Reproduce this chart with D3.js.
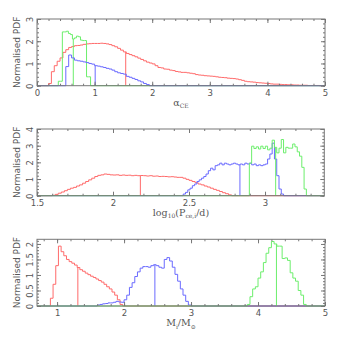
<!DOCTYPE html>
<html>
<head>
<meta charset="utf-8">
<script src="https://cdn.jsdelivr.net/npm/d3@7"></script>
<style>
  body { margin: 0; background: #fff; }
  svg { display: block; }
</style>
</head>
<body>
<svg id="chart" width="343" height="343"></svg>
<script>
// ---- alpha_CE panel (bin starts + widths)
const aceRedStart = 0.20, aceRedBin = 0.05
const aceRed = [0.1, 0.63, 0.9, 1.1, 1.25, 1.5, 1.62, 1.72, 1.76, 1.8,
    1.81, 1.83, 1.86, 1.88, 1.89, 1.9, 1.9, 1.9, 1.91, 1.9,
    1.88, 1.85, 1.8, 1.75, 1.68, 1.6, 1.52, 1.45, 1.4, 1.35,
    1.3, 1.24, 1.18, 1.12, 1.06, 1.02, 0.98, 0.9, 0.82, 0.8,
    0.75, 0.74, 0.7, 0.68, 0.64, 0.62, 0.6, 0.6, 0.58, 0.56,
    0.54, 0.5, 0.48, 0.47, 0.45, 0.44, 0.43, 0.42, 0.4, 0.38,
    0.37, 0.36, 0.34, 0.33, 0.32, 0.3, 0.27, 0.24, 0.2, 0.18,
    0.17, 0.16, 0.14, 0.13, 0.12, 0.11, 0.1, 0.08, 0.07, 0.07,
    0.06, 0.05, 0.05, 0.04, 0.04, 0.03, 0.03, 0.02, 0.02, 0.02,
    0.01, 0.01, 0.01, 0.01]
const aceGreenStart = 0.37, aceGreenBin = 0.035
const aceGreen = [0.2, 0.2, 2.42, 2.42, 2.45, 2.35, 2.3, 2.1, 2.15, 2.23, 2.2, 2.05, 2.03, 2.03, 0.4, 0.4]
const aceBlueStart = 0.50, aceBlueBin = 0.05
const aceBlue = [0.86, 1.38, 1.25, 1.15, 1.12, 1.1, 1.07, 1.04, 1.0, 0.97,
    0.9, 0.88, 0.85, 0.82, 0.78, 0.75, 0.7, 0.63, 0.58, 0.55,
    0.52, 0.42, 0.38, 0.33, 0.28, 0.22, 0.17, 0.1, 0.05]
const aceMedians = [1.54, 0.63, 1.01]   // red, green, blue

// ---- log10(P_ce,i) panel
const perRedStart = 1.60, perRedBin = 0.02
const perRed = [0.02, 0.08, 0.15, 0.22, 0.3, 0.38, 0.45, 0.5, 0.58, 0.65,
    0.75, 0.85, 0.95, 1.05, 1.15, 1.22, 1.25, 1.3, 1.28, 1.25,
    1.24, 1.25, 1.22, 1.24, 1.22, 1.23, 1.2, 1.22, 1.2, 1.21,
    1.2, 1.18, 1.2, 1.17, 1.18, 1.15, 1.16, 1.15, 1.13, 1.14,
    1.12, 1.1, 1.1, 1.05, 0.98, 0.92, 0.85, 0.78, 0.7, 0.65,
    0.58, 0.52, 0.45, 0.38, 0.32, 0.25, 0.18, 0.12, 0.05]
const perBlueStart = 2.462, perBlueBin = 0.015
const perBlue = [0.1, 0.2, 0.35, 0.45, 0.6, 0.7, 0.85, 0.95, 1.05, 1.15,
    1.3, 1.5, 1.65, 1.55, 1.8, 1.85, 1.95, 1.85, 1.95, 1.9,
    1.85, 1.9, 1.95, 1.9, 1.85, 1.9, 1.85, 1.95, 1.9, 1.95,
    1.85, 1.9, 1.8, 1.85, 1.8, 1.85, 1.9, 2.2, 2.5, 3.15,
    2.2, 1.2, 0.4, 0.1]
const perGreenStart = 2.897, perGreenBin = 0.015
const perGreen = [1.95, 2.97, 2.83, 2.93, 2.8, 2.97, 2.83, 2.97, 2.75, 2.85,
    3.33, 2.9, 2.57, 2.85, 3.37, 2.57, 2.9, 2.85, 2.85, 3.1,
    2.93, 2.63, 2.37, 1.7, 0.4]
const perMedians = [2.18, 3.07, 2.835]

// ---- M_i / M_sun panel
const massRedStart = 0.90, massRedBin = 0.04
const massRed = [0.25, 0.7, 1.3, 1.93, 1.75, 1.62, 1.5, 1.43, 1.38, 1.32,
    1.24, 1.17, 1.12, 1.06, 1.01, 0.96, 0.92, 0.87, 0.82, 0.77,
    0.7, 0.62, 0.55, 0.45, 0.35, 0.2, 0.05]
const massBlueStart = 1.60, massBlueBin = 0.04
const massBlue = [0.03, 0.05, 0.07, 0.08, 0.1, 0.1, 0.12, 0.15, 0.13, 0.12,
    0.2, 0.35, 0.6, 0.75, 0.95, 1.1, 1.22, 1.27, 1.27, 1.25,
    1.3, 1.33, 1.3, 1.25, 1.22, 1.5, 1.56, 1.45, 1.25, 1.02,
    0.8, 0.55, 0.35, 0.15, 0.03]
const massGreenStart = 3.84, massGreenBin = 0.04
const massGreen = [0.05, 0.3, 0.55, 0.62, 0.9, 1.1, 1.4, 1.7, 1.88, 2.08,
    2.0, 1.93, 1.93, 1.53, 1.55, 1.47, 1.07, 0.9, 0.8, 0.5,
    0.35, 0.05]
const massMedians = [1.31, 4.275, 2.46]

const colors = { red: '#ff6a6a', green: '#6cee6c', blue: '#6a6aff' }
const textColor = '#555'
const frameColor = '#777'

const panels = [
    {
        top: 19, bottom: 85.7, right: 325,
        xDomain: [0, 5], yDomain: [0, 3],
        xMajor: d3.range(0, 5.01, 1), xMinor: d3.range(0, 5.01, 0.2),
        yMajor: d3.range(0, 3.01, 1), yMinor: d3.range(0, 3.01, 0.2),
        series: [
            { c: colors.red, start: aceRedStart, bin: aceRedBin, vals: aceRed, med: aceMedians[0] },
            { c: colors.green, start: aceGreenStart, bin: aceGreenBin, vals: aceGreen, med: aceMedians[1] },
            { c: colors.blue, start: aceBlueStart, bin: aceBlueBin, vals: aceBlue, med: aceMedians[2] }
        ],
        label: ['α', 'CE']
    },
    {
        top: 129, bottom: 195.7, right: 324.3,
        xDomain: [1.5, 3.39], yDomain: [0, 4],
        xMajor: [1.5, 2, 2.5, 3], xMinor: d3.range(1.5, 3.39, 0.1),
        yMajor: d3.range(0, 4.01, 1), yMinor: d3.range(0, 4.01, 0.2),
        series: [
            { c: colors.red, start: perRedStart, bin: perRedBin, vals: perRed, med: perMedians[0] },
            { c: colors.blue, start: perBlueStart, bin: perBlueBin, vals: perBlue, med: perMedians[2] },
            { c: colors.green, start: perGreenStart, bin: perGreenBin, vals: perGreen, med: perMedians[1] }
        ],
        label: ['log', '10', '(P', 'ce,i', '/d)']
    },
    {
        top: 239.3, bottom: 306, right: 325,
        xDomain: [0.7, 5], yDomain: [0, 2.15],
        xMajor: d3.range(1, 5.01, 1), xMinor: d3.range(0.8, 5.01, 0.2),
        yMajor: [0, 0.5, 1, 1.5, 2], yMinor: d3.range(0, 2.15, 0.1),
        series: [
            { c: colors.red, start: massRedStart, bin: massRedBin, vals: massRed, med: massMedians[0] },
            { c: colors.blue, start: massBlueStart, bin: massBlueBin, vals: massBlue, med: massMedians[2] },
            { c: colors.green, start: massGreenStart, bin: massGreenBin, vals: massGreen, med: massMedians[1] }
        ],
        label: ['M', 'i', '/M', '⊙']
    }
]

const left = 37
const svg = d3.select('#chart')
const fmt = d => String(+d.toFixed(2))

panels.forEach(p => {
    const x = d3.scaleLinear().domain(p.xDomain).range([left, p.right])
    const y = d3.scaleLinear().domain(p.yDomain).range([p.bottom, p.top])
    const g = svg.append('g')

    // histograms as step lines
    const line = d3.line().x(d => x(d[0])).y(d => y(d[1])).curve(d3.curveStepAfter)
    p.series.forEach(s => {
        const end = s.start + s.vals.length * s.bin
        const pts = [[p.xDomain[0], 0], [s.start, 0]]
        s.vals.forEach((v, i) => pts.push([s.start + i * s.bin, v]))
        pts.push([end, 0], [p.xDomain[1], 0])
        g.append('path')
            .attr('d', line(pts))
            .attr('fill', 'none')
            .attr('stroke', s.c)
            .attr('stroke-width', 1)

        // median marker up to the histogram height
        const idx = Math.min(s.vals.length - 1, Math.floor((s.med - s.start) / s.bin))
        g.append('line')
            .attr('x1', x(s.med)).attr('x2', x(s.med))
            .attr('y1', y(0)).attr('y2', y(s.vals[idx]))
            .attr('stroke', s.c)
            .attr('stroke-width', 1)
    })

    // inward ticks on all four sides
    const axes = [
        [d3.axisBottom(x), `translate(0,${p.bottom})`, p.xMajor, p.xMinor, true, false],
        [d3.axisTop(x), `translate(0,${p.top})`, p.xMajor, p.xMinor, false, false],
        [d3.axisLeft(y), `translate(${left},0)`, p.yMajor, p.yMinor, true, true],
        [d3.axisRight(y), `translate(${p.right},0)`, p.yMajor, p.yMinor, false, false]
    ]
    axes.forEach(([ax, tr, major, minor, labels, rotate]) => {
        g.append('g')
            .attr('transform', tr)
            .call(ax.tickValues(minor).tickSize(-2).tickFormat(''))
            .call(a => a.select('.domain').remove())
        const majorG = g.append('g')
            .attr('transform', tr)
            .call(ax.tickValues(major).tickSize(-4).tickPadding(4).tickFormat(labels ? fmt : ''))
            .call(a => a.select('.domain').remove())
        const txt = majorG.selectAll('text')
            .attr('fill', textColor)
            .style('font-family', 'DejaVu Sans')
            .style('font-size', '8.5px')
        if (rotate) {
            txt.attr('x', null).attr('dy', null)
                .attr('text-anchor', 'middle')
                .attr('transform', 'translate(-4,0) rotate(-90)')
        }
    })
    g.selectAll('.tick line').attr('stroke', frameColor)

    g.append('rect')
        .attr('x', left).attr('y', p.top)
        .attr('width', p.right - left).attr('height', p.bottom - p.top)
        .attr('fill', 'none')
        .attr('stroke', frameColor)

    // axis titles
    g.append('text')
        .attr('transform', `translate(20,${(p.top + p.bottom) / 2}) rotate(-90)`)
        .attr('text-anchor', 'middle')
        .attr('fill', textColor)
        .style('font-family', 'DejaVu Sans')
        .style('font-size', '9px')
        .text('Normalised PDF')

    const xl = g.append('text')
        .attr('x', 181).attr('y', p.bottom + 20)
        .attr('text-anchor', 'middle')
        .attr('fill', textColor)
        .style('font-family', 'DejaVu Serif')
        .style('font-size', '9.5px')
    p.label.forEach((t, i) => {
        const sub = i % 2 === 1
        xl.append('tspan')
            .attr('dy', sub ? 2.5 : (i ? -2.5 : 0))
            .style('font-size', sub ? '6px' : null)
            .text(t)
    })
})
</script>
</body>
</html>
